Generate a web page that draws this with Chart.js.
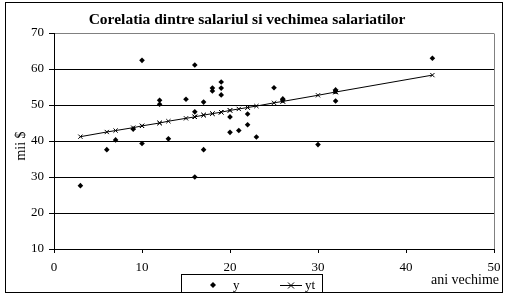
<!DOCTYPE html>
<html>
<head>
<meta charset="utf-8">
<script src="https://cdn.jsdelivr.net/npm/chart.js@4.4.1/dist/chart.umd.min.js"></script>
<style>
  html, body { margin: 0; padding: 0; background: #fff; }
</style>
</head>
<body>
<canvas id="chart" width="509" height="299"></canvas>
<script>
const TITLE = 'Corelatia dintre salariul si vechimea salariatilor';
const X_TITLE = 'ani vechime';
const Y_TITLE = 'mii $';
const SERIES = ['y', 'yt'];

// ani vechime (x), salariu observat (y), linia de tendinta (yt)
const vechime = [3, 6, 7, 9, 10, 10, 12, 12, 13, 15, 16, 16, 16, 17, 17, 18, 18, 19, 19, 19,
    20, 20, 21, 22, 22, 23, 25, 26, 26, 30, 32, 32, 32, 43];
const salariu = [27.6, 37.6, 40.3, 43.3, 62.4, 39.3, 51.3, 50.2, 40.6, 51.6, 61.1, 48.1, 30.0, 50.8, 37.6, 54.7, 53.9, 56.4, 54.7, 52.8,
    46.7, 42.4, 42.9, 47.5, 44.5, 41.1, 54.8, 51.7, 51.3, 39.0, 54.2, 53.8, 51.1, 63.0];
const trend = [41.2, 42.5, 42.9, 43.7, 44.2, 44.2, 45.0, 45.0, 45.5, 46.3, 46.7, 46.7, 46.7, 47.2, 47.2, 47.6, 47.6, 48.0, 48.0, 48.0,
    48.5, 48.5, 48.9, 49.3, 49.3, 49.7, 50.6, 51.0, 51.0, 52.7, 53.6, 53.6, 53.6, 58.3];

const xTicks = [0, 10, 20, 30, 40, 50];
const yTicks = [10, 20, 30, 40, 50, 60, 70];

const FONT = 'Liberation Serif';

// frame, gray plot border, axis titles and the boxed legend
const extras = {
    id: 'extras',
    afterDraw(chart) {
        const { ctx, chartArea: a } = chart;
        const r = Math.round(a.right - 0.5) + 0.5;
        const t = Math.round(a.top - 0.5) + 0.5;
        ctx.save();
        ctx.lineWidth = 1;

        ctx.strokeStyle = '#808080';
        ctx.beginPath();
        ctx.moveTo(r, t);
        ctx.lineTo(r, Math.round(a.bottom));
        ctx.stroke();

        ctx.strokeStyle = '#000';
        ctx.strokeRect(5.5, 2.5, 497, 290);

        ctx.fillStyle = '#000';
        ctx.font = `14px "${FONT}"`;
        ctx.textAlign = 'right';
        ctx.textBaseline = 'middle';
        ctx.fillText(X_TITLE, 499, 280);

        ctx.save();
        ctx.translate(21, 146);
        ctx.rotate(-Math.PI / 2);
        ctx.textAlign = 'center';
        ctx.fillText(Y_TITLE, 0, 0);
        ctx.restore();

        // legend
        ctx.strokeRect(181.5, 274.5, 141, 18);
        const ly = 285;
        ctx.beginPath();
        ctx.moveTo(213, ly - 3); ctx.lineTo(216, ly); ctx.lineTo(213, ly + 3); ctx.lineTo(210, ly);
        ctx.closePath();
        ctx.fill();
        ctx.beginPath();
        ctx.moveTo(280, ly + 0.5); ctx.lineTo(302, ly + 0.5);
        ctx.moveTo(288, ly - 2.5); ctx.lineTo(294, ly + 3.5);
        ctx.moveTo(294, ly - 2.5); ctx.lineTo(288, ly + 3.5);
        ctx.stroke();
        ctx.font = `13px "${FONT}"`;
        ctx.textAlign = 'left';
        ctx.fillText(SERIES[0], 233, ly + 1);
        ctx.fillText(SERIES[1], 305, ly + 1);
        ctx.restore();
    }
};

new Chart(document.getElementById('chart'), {
    type: 'scatter',
    data: {
        datasets: [
            {
                label: SERIES[1],
                data: vechime.map((x, i) => ({ x, y: trend[i] })),
                showLine: true,
                borderColor: '#000',
                borderWidth: 1,
                pointStyle: 'crossRot',
                pointRadius: 3,
                pointBorderWidth: 1,
                pointBorderColor: '#000',
                order: 2
            },
            {
                label: SERIES[0],
                data: vechime.map((x, i) => ({ x, y: salariu[i] })),
                pointStyle: 'rectRot',
                pointRadius: 2.8,
                backgroundColor: '#000',
                borderColor: '#000',
                borderWidth: 0,
                order: 1
            }
        ]
    },
    options: {
        responsive: false,
        animation: false,
        events: [],
        layout: { padding: { left: 0, right: 15, top: 0, bottom: 0 } },
        plugins: {
            legend: { display: false },
            tooltip: { enabled: false },
            title: {
                display: true,
                text: TITLE,
                color: '#000',
                font: { family: FONT, size: 15.5, weight: 'bold' },
                padding: { top: 11, bottom: 3.4 }
            }
        },
        scales: {
            x: {
                type: 'linear',
                min: xTicks[0],
                max: xTicks[xTicks.length - 1],
                afterBuildTicks: s => { s.ticks = xTicks.map(v => ({ value: v })); },
                afterFit: s => { s.height = 50; },
                border: { color: '#000', width: 1 },
                grid: { drawOnChartArea: false, tickLength: 4, tickColor: '#000' },
                ticks: { color: '#000', padding: 7, maxRotation: 0, font: { family: FONT, size: 13 } }
            },
            y: {
                min: yTicks[0],
                max: yTicks[yTicks.length - 1],
                afterBuildTicks: s => { s.ticks = yTicks.map(v => ({ value: v })); },
                afterFit: s => { s.width = 54; },
                border: { color: '#000', width: 1 },
                grid: {
                    color: c => (c.tick && c.tick.value === yTicks[yTicks.length - 1]) ? '#808080' : '#000',
                    tickColor: '#000',
                    tickLength: 5
                },
                ticks: { color: '#000', padding: 5, font: { family: FONT, size: 13 } }
            }
        }
    },
    plugins: [extras]
});
</script>
</body>
</html>
